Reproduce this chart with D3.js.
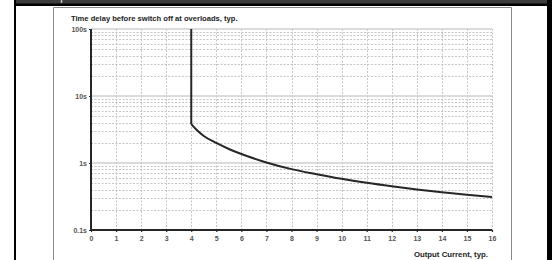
<!DOCTYPE html>
<html lang="en">
<head>
  <meta charset="UTF-8">
  <title>overload-delay</title>
  <script src="https://cdn.jsdelivr.net/npm/d3@7/dist/d3.min.js"></script>
  <style>
    body { margin: 0; background: #fff; }
    text { font-family: "Liberation Sans", Arial, sans-serif; }
  </style>
</head>
<body>
<script>
  // data
  var currentTicks = d3.range(0, 17)            // 0..16
  var timeTicks = [0.1, 1, 10, 100]
  var timeTickLabels = ['0.1s', '1s', '10s', '100s']
  // vertical cut-off part at 4 A
  var cutoffCurrent = [4, 4]
  var cutoffTime = [100, 3.8]
  // decaying part
  var curveCurrent = [4, 4.2, 4.5, 5, 5.5, 6, 7, 8, 9, 10, 11, 12, 13, 14, 15, 16]
  var curveTime = [3.8, 3.16, 2.53, 1.99, 1.62, 1.36, 1.02, 0.81, 0.68, 0.58, 0.506, 0.449, 0.403, 0.366, 0.336, 0.311]

  var w = 552, h = 260
  var svg = d3.select('body').append('svg').attr('width', w).attr('height', h)

  // page frame bits around the chart
  svg.append('rect').attr('x', 14).attr('y', 0).attr('width', 533).attr('height', 4).attr('fill', '#3c3c3c')
  svg.append('rect').attr('x', 14).attr('y', 3.5).attr('width', 538).attr('height', 2.5).attr('fill', '#000')
  svg.append('rect').attr('x', 14).attr('y', 0).attr('width', 2).attr('height', h).attr('fill', '#000')
  svg.append('rect').attr('x', 547).attr('y', 0).attr('width', 5).attr('height', h).attr('fill', '#000')
  svg.append('text').attr('x', 60).attr('y', 0).attr('font-size', 13).attr('fill', '#ddd').text('p')
  svg.append('path').attr('d', 'M53.5,' + h + 'V7.5H511.5V' + h)
    .attr('fill', 'none').attr('stroke', '#8a8a8a').attr('stroke-width', 1)

  var x = d3.scaleLinear().domain([0, 16]).range([91, 492])
  var y = d3.scaleLog().domain([0.1, 100]).range([230, 29])

  // grid
  var minor = []
  timeTicks.slice(0, 3).forEach(function (d) {
    for (var k = 2; k <= 9; k++) minor.push(d * k)
  })
  svg.append('g').selectAll('line').data(minor).enter().append('line')
    .attr('x1', x(0)).attr('x2', x(16))
    .attr('y1', function (d) { return Math.round(y(d)) + 0.5 })
    .attr('y2', function (d) { return Math.round(y(d)) + 0.5 })
    .attr('stroke', '#b8b8b8').attr('stroke-width', 0.8).attr('stroke-dasharray', '2,1.5')
  svg.append('g').selectAll('line').data(currentTicks.slice(1)).enter().append('line')
    .attr('x1', function (d) { return Math.round(x(d)) + 0.5 })
    .attr('x2', function (d) { return Math.round(x(d)) + 0.5 })
    .attr('y1', y(100)).attr('y2', y(0.1))
    .attr('stroke', '#b8b8b8').attr('stroke-width', 0.8).attr('stroke-dasharray', '2,1.5')
  svg.append('g').selectAll('line').data(timeTicks.slice(1)).enter().append('line')
    .attr('x1', x(0)).attr('x2', x(16))
    .attr('y1', function (d) { return y(d) }).attr('y2', function (d) { return y(d) })
    .attr('stroke', '#cfcfcf').attr('stroke-width', 1.6)

  // axes
  var xAxis = svg.append('g').attr('transform', 'translate(0,' + y(0.1) + ')')
    .call(d3.axisBottom(x).tickValues(currentTicks).tickSize(2).tickPadding(4).tickFormat(d3.format('d')))
  var yAxis = svg.append('g').attr('transform', 'translate(' + x(0) + ',0)')
    .call(d3.axisLeft(y).tickValues(timeTicks).tickSize(2).tickPadding(2)
      .tickFormat(function (d, i) { return timeTickLabels[i] }))
  ;[xAxis, yAxis].forEach(function (g) {
    g.select('.domain').attr('stroke', '#262626').attr('stroke-width', 2)
    g.selectAll('.tick line').attr('stroke', '#262626').attr('stroke-width', 1.2)
    g.selectAll('.tick text').attr('font-family', '"Liberation Sans", Arial, sans-serif')
      .attr('font-size', 7).attr('font-weight', 'bold').attr('fill', '#555')
  })
  xAxis.select('.domain').attr('d', 'M' + x(0) + ',0H' + x(16))
  yAxis.select('.domain').attr('d', 'M0,' + y(100) + 'V' + y(0.1))

  // curve
  var line = d3.line()
    .x(function (d) { return x(d[0]) })
    .y(function (d) { return y(d[1]) })
  svg.append('path').datum(d3.zip(cutoffCurrent, cutoffTime))
    .attr('d', line).attr('fill', 'none').attr('stroke', '#262626').attr('stroke-width', 2)
  svg.append('path').datum(d3.zip(curveCurrent, curveTime))
    .attr('d', line.curve(d3.curveMonotoneX)).attr('fill', 'none')
    .attr('stroke', '#262626').attr('stroke-width', 2)

  // titles
  svg.append('text').attr('x', 71).attr('y', 20.5)
    .attr('font-size', 7.6).attr('font-weight', 'bold').attr('fill', '#222')
    .text('Time delay before switch off at overloads, typ.')
  svg.append('text').attr('x', 488).attr('y', 256.5).attr('text-anchor', 'end')
    .attr('font-size', 7.8).attr('font-weight', 'bold').attr('fill', '#222')
    .text('Output Current, typ.')
</script>
</body>
</html>
